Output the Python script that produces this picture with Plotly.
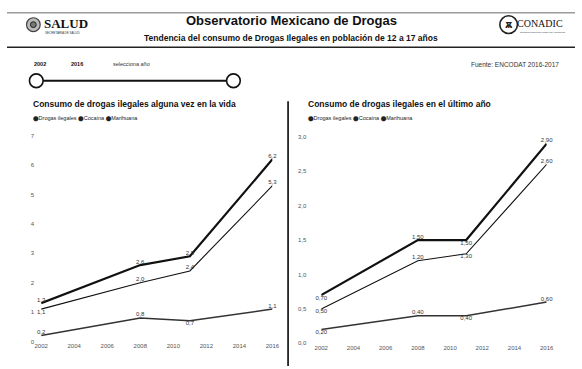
import plotly.graph_objects as go

# ---- data -------------------------------------------------------------
years = [2002, 2008, 2011, 2016]

# alguna vez en la vida (%)
vida_drogas = [1.3, 2.6, 2.9, 6.2]
vida_cocaina = [0.2, 0.8, 0.7, 1.1]
vida_marihuana = [1.1, 2.0, 2.4, 5.3]

# en el último año (%)
anio_drogas = [0.70, 1.50, 1.50, 2.90]
anio_cocaina = [0.20, 0.40, 0.40, 0.60]
anio_marihuana = [0.50, 1.20, 1.30, 2.60]

x_ticks = [2002, 2004, 2006, 2008, 2010, 2012, 2014, 2016]
vida_ticks = [0, 1, 2, 3, 4, 5, 6, 7]
anio_ticks = [0.0, 0.5, 1.0, 1.5, 2.0, 2.5, 3.0]
series_names = ["Drogas ilegales", "Cocaína", "Marihuana"]

W, H = 582, 369
FONT = "Liberation Sans, Arial, sans-serif"


def X(px):
    return px / W


def Y(py):
    return 1 - py / H


def fmt(vals, nd):
    return [f"{v:.{nd}f}".replace(".", ",") for v in vals]


fig = go.Figure()

line_styles = {
    "Drogas ilegales": dict(color="#111111", width=2.2),
    "Cocaína": dict(color="#333333", width=1.5),
    "Marihuana": dict(color="#111111", width=1.1),
}

left = [
    ("Drogas ilegales", vida_drogas, ["top center", "top center", "top center", "top center"]),
    ("Cocaína", vida_cocaina, ["top center", "top center", "bottom center", "top center"]),
    ("Marihuana", vida_marihuana, ["bottom center", "top center", "top center", "top center"]),
]
right = [
    ("Drogas ilegales", anio_drogas, ["bottom center", "top center", "bottom center", "top center"]),
    ("Cocaína", anio_cocaina, ["bottom center", "top center", "bottom center", "top center"]),
    ("Marihuana", anio_marihuana, ["bottom center", "top center", "bottom center", "top center"]),
]

for name, vals, pos in left:
    fig.add_trace(go.Scatter(
        x=years, y=vals, mode="lines+text", name=name, showlegend=False,
        line=line_styles[name], text=fmt(vals, 1), textposition=pos,
        textfont=dict(size=6, color="#333333", family=FONT),
        xaxis="x", yaxis="y", cliponaxis=False,
    ))
for name, vals, pos in right:
    fig.add_trace(go.Scatter(
        x=years, y=vals, mode="lines+text", name=name, showlegend=False,
        line=line_styles[name], text=fmt(vals, 2), textposition=pos,
        textfont=dict(size=6, color="#333333", family=FONT),
        xaxis="x2", yaxis="y2", cliponaxis=False,
    ))

axis_common = dict(showgrid=False, zeroline=False, showline=False, ticks="",
                   tickfont=dict(size=6, color="#555555", family=FONT))

fig.update_layout(
    width=W, height=H,
    margin=dict(l=0, r=0, t=0, b=0),
    paper_bgcolor="white", plot_bgcolor="white",
    font=dict(family=FONT, color="#111111"),
    xaxis=dict(domain=[X(35), X(272)], range=[2002, 2016], tickvals=x_ticks,
               anchor="y", **axis_common),
    yaxis=dict(domain=[Y(344), Y(135)], range=[0, 7], tickvals=vida_ticks,
               ticktext=[str(v) for v in vida_ticks], ticklabelstandoff=6,
               anchor="x", **axis_common),
    xaxis2=dict(domain=[X(322), X(553)], range=[2002, 2016], tickvals=x_ticks,
                anchor="y2", **axis_common),
    yaxis2=dict(domain=[Y(346), Y(136)], range=[0, 3], tickvals=anio_ticks,
                ticktext=fmt(anio_ticks, 1), ticklabelstandoff=14,
                anchor="x2", **axis_common),
)

shapes = []
ann = []

# header rules
shapes.append(dict(type="line", xref="paper", yref="paper", x0=0, x1=1, y0=Y(10), y1=Y(10),
                   line=dict(color="#444444", width=0.8)))
shapes.append(dict(type="line", xref="paper", yref="paper", x0=0, x1=1, y0=Y(45), y1=Y(45),
                   line=dict(color="#222222", width=1.6)))

# header titles
ann.append(dict(x=X(291), y=Y(18), text="<b>Observatorio Mexicano de Drogas</b>",
                font=dict(size=13, family=FONT, color="#111111")))
ann.append(dict(x=X(291), y=Y(36), text="<b>Tendencia del consumo de Drogas Ilegales en población de 12 a 17 años</b>",
                font=dict(size=8.5, family=FONT, color="#111111")))

# SALUD emblem
shapes.append(dict(type="circle", xref="paper", yref="paper", x0=X(20), x1=X(34), y0=Y(29), y1=Y(15),
                   line=dict(color="#444444", width=1.2), fillcolor="#bbbbbb"))
shapes.append(dict(type="circle", xref="paper", yref="paper", x0=X(24), x1=X(30), y0=Y(25), y1=Y(19),
                   line=dict(color="#222222", width=1), fillcolor="#777777"))
ann.append(dict(x=X(36), y=Y(21), xanchor="left", text="<b>SALUD</b>",
                font=dict(size=13, family="Liberation Serif, serif", color="#111111")))
ann.append(dict(x=X(37), y=Y(31), xanchor="left", text="SECRETARÍA DE SALUD",
                font=dict(size=3, family=FONT, color="#333333")))

# CONADIC emblem
shapes.append(dict(type="circle", xref="paper", yref="paper", x0=X(505), x1=X(523), y0=Y(31), y1=Y(13),
                   line=dict(color="#222222", width=1.6), fillcolor="white"))
ann.append(dict(x=X(514), y=Y(22), text="<b>ѫ</b>",
                font=dict(size=11, family="DejaVu Sans", color="#222222")))
ann.append(dict(x=X(521), y=Y(21), xanchor="left", text="CONADIC",
                font=dict(size=10, family="Liberation Serif, serif", color="#111111")))
ann.append(dict(x=X(524), y=Y(30), xanchor="left", text="Comisión Nacional contra las Adicciones",
                font=dict(size=2.5, family=FONT, color="#333333")))

# source
ann.append(dict(x=X(568), y=Y(63), xanchor="right", text="Fuente: ENCODAT 2016-2017",
                font=dict(size=6.5, family=FONT, color="#333333")))

# year slider
ann.append(dict(x=X(34), y=Y(62), text="<b>2002</b>", font=dict(size=5.5, family=FONT)))
ann.append(dict(x=X(72), y=Y(62), text="<b>2016</b>", font=dict(size=5.5, family=FONT)))
ann.append(dict(x=X(128), y=Y(62), text="selecciona año", font=dict(size=5.5, family=FONT, color="#333333")))
shapes.append(dict(type="line", xref="paper", yref="paper", x0=X(37), x1=X(225), y0=Y(79), y1=Y(79),
                   line=dict(color="#111111", width=2)))
for cx in (30, 232):
    shapes.append(dict(type="circle", xref="paper", yref="paper", x0=X(cx - 7), x1=X(cx + 7),
                       y0=Y(86), y1=Y(72), line=dict(color="#111111", width=1.6), fillcolor="white"))

# panel divider
shapes.append(dict(type="line", xref="paper", yref="paper", x0=X(288), x1=X(288), y0=Y(100), y1=Y(369),
                   line=dict(color="#222222", width=1.8)))

# panel titles and legends
legend_text = " ".join(
    f"<span style='font-family:DejaVu Sans;font-size:5px'>⬤</span>{n}" for n in series_names
)
for px, title in ((25, "Consumo de drogas ilegales alguna vez en la vida"),
                  (306, "Consumo de drogas ilegales en el último año")):
    ann.append(dict(x=X(px), y=Y(103), xanchor="left", text=f"<b>{title}</b>",
                    font=dict(size=8.5, family=FONT, color="#111111")))
    ann.append(dict(x=X(px), y=Y(117), xanchor="left", text=legend_text,
                    font=dict(size=5.5, family=FONT, color="#222222")))

for a in ann:
    a.setdefault("xref", "paper")
    a.setdefault("yref", "paper")
    a.setdefault("showarrow", False)
    a.setdefault("xanchor", "center")
    a.setdefault("yanchor", "middle")

fig.update_layout(shapes=shapes, annotations=ann)
fig.write_html("out.html")
